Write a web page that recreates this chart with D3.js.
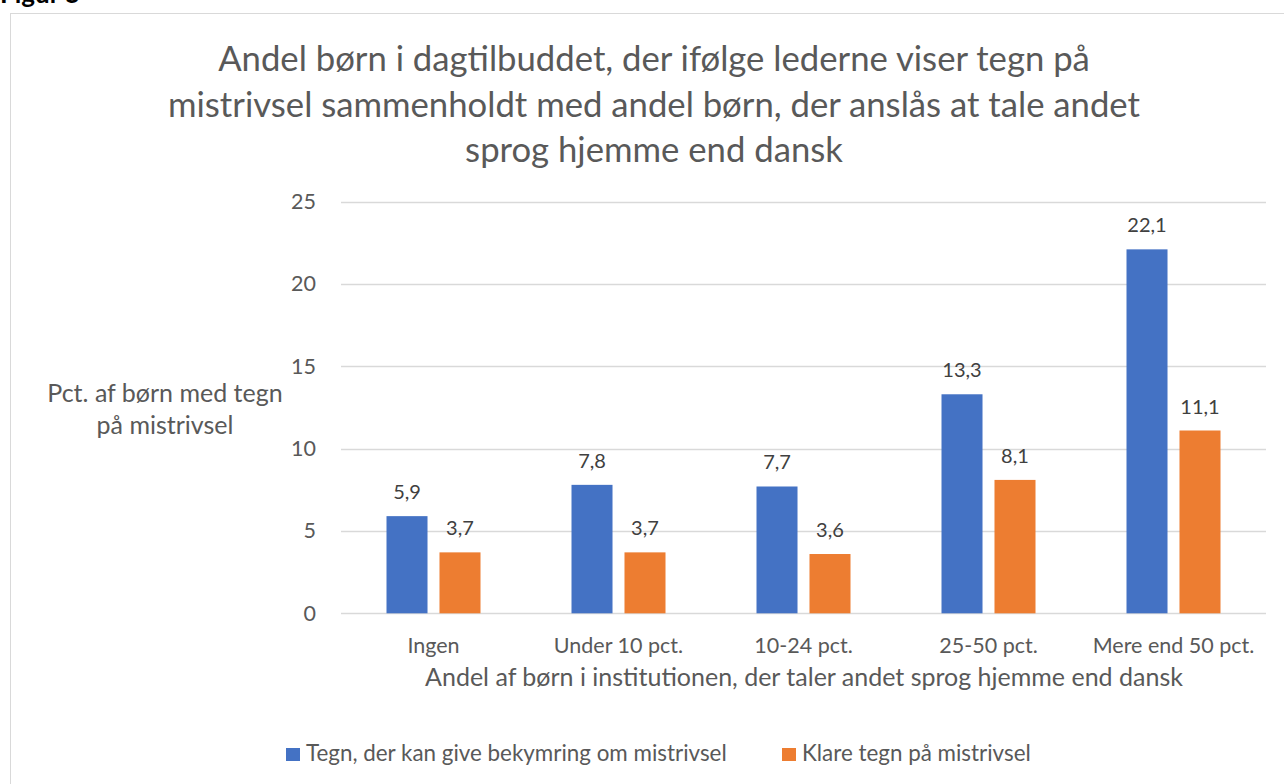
<!DOCTYPE html>
<html lang="da">
  <head>
    <meta charset="UTF-8" />
    <title>Figur 5</title>
    <script src="https://cdn.jsdelivr.net/npm/d3@7"></script>
    <style>
      body { margin: 0; background: #fff; }
      svg { display: block; font-family: Lato, "Open Sans", sans-serif; }
    </style>
  </head>
  <body>
    <div id="main-div"></div>
    <script>
      // data
      let categories = ["Ingen", "Under 10 pct.", "10-24 pct.", "25-50 pct.", "Mere end 50 pct."];
      let seriesNames = ["Tegn, der kan give bekymring om mistrivsel", "Klare tegn på mistrivsel"];
      let bekymring = [5.9, 7.8, 7.7, 13.3, 22.1];
      let klare = [3.7, 3.7, 3.6, 8.1, 11.1];
      let yTicks = [0, 5, 10, 15, 20, 25];
      let colors = ["#4472c4", "#ed7d31"];

      let titleLines = [
        "Andel børn i dagtilbuddet, der ifølge lederne viser tegn på",
        "mistrivsel sammenholdt med andel børn, der anslås at tale andet",
        "sprog hjemme end dansk",
      ];

      let dataset = categories.map((c, i) => ({ cat: c, values: [bekymring[i], klare[i]] }));

      let W = 1284, H = 784;
      let svg = d3.select("#main-div").append("svg").attr("width", W).attr("height", H);

      // "Figur 5" heading, clipped at the top like the page crop
      svg.append("text").attr("x", 0).attr("y", 3)
        .attr("font-weight", "bold").attr("font-size", 26).attr("fill", "#000")
        .text("Figur 5");

      // chart frame
      svg.append("rect").attr("x", 10.5).attr("y", 13.5).attr("width", 1290).attr("height", 800)
        .attr("fill", "#fff").attr("stroke", "#d9d9d9").attr("stroke-width", 1);

      let plotLeft = 341, plotRight = 1266, plotTop = 201.6, plotBottom = 613.3;

      let x0 = d3.scaleBand().domain(categories).range([plotLeft, plotRight]).padding(0);
      let bw = x0.bandwidth();
      let x1 = d3.scaleBand().domain([0, 1]).range([bw / 2 - 47, bw / 2 + 47]).paddingInner(0.226);
      let y = d3.scaleLinear().domain([0, 25]).range([plotBottom, plotTop]);

      // title
      svg.append("g").selectAll("text").data(titleLines).join("text")
        .attr("x", 654).attr("y", (d, i) => 71 + i * 45.5)
        .attr("text-anchor", "middle").attr("font-size", 34.7).attr("fill", "#595959")
        .text((d) => d);

      // gridlines
      svg.append("g").selectAll("line").data(yTicks).join("line")
        .attr("x1", plotLeft).attr("x2", plotRight)
        .attr("y1", (d) => Math.round(y(d)) + 0.5).attr("y2", (d) => Math.round(y(d)) + 0.5)
        .attr("stroke", "#d9d9d9").attr("stroke-width", 1.3);

      // y axis labels
      let yAxis = svg.append("g").attr("transform", "translate(" + plotLeft + ",0)")
        .call(d3.axisLeft(y).tickValues(yTicks).tickSize(0).tickPadding(25));
      yAxis.select(".domain").remove();
      yAxis.selectAll("text").attr("font-size", 21.5).attr("fill", "#595959")
        .attr("font-family", "Lato, sans-serif");

      // x axis labels
      let xAxis = svg.append("g").attr("transform", "translate(0," + plotBottom + ")")
        .call(d3.axisBottom(x0).tickSize(0).tickPadding(24));
      xAxis.select(".domain").remove();
      xAxis.selectAll("text").attr("font-size", 21.5).attr("fill", "#595959")
        .attr("font-family", "Lato, sans-serif");

      // bars
      let groups = svg.append("g").selectAll("g").data(dataset).join("g")
        .attr("transform", (d) => "translate(" + x0(d.cat) + ",0)");
      groups.selectAll("rect").data((d) => d.values.map((v, i) => ({ v, i }))).join("rect")
        .attr("x", (d) => x1(d.i)).attr("width", x1.bandwidth())
        .attr("y", (d) => y(d.v)).attr("height", (d) => y(0) - y(d.v))
        .attr("fill", (d) => colors[d.i]);

      // data labels
      groups.selectAll("text").data((d) => d.values.map((v, i) => ({ v, i }))).join("text")
        .attr("x", (d) => x1(d.i) + x1.bandwidth() / 2)
        .attr("y", (d) => y(d.v) - 17)
        .attr("text-anchor", "middle").attr("font-size", 20).attr("fill", "#404040")
        .text((d) => d3.format(".1f")(d.v).replace(".", ","));

      // axis titles
      svg.append("text").attr("x", 804).attr("y", 686)
        .attr("text-anchor", "middle").attr("font-size", 25).attr("fill", "#595959")
        .text("Andel af børn i institutionen, der taler andet sprog hjemme end dansk");
      svg.append("g").selectAll("text").data(["Pct. af børn med tegn", "på mistrivsel"]).join("text")
        .attr("x", 165).attr("y", (d, i) => 402 + i * 32)
        .attr("text-anchor", "middle").attr("font-size", 25).attr("fill", "#595959")
        .text((d) => d);

      // legend
      let legendX = [286, 782];
      let legend = svg.append("g").selectAll("g").data(seriesNames).join("g")
        .attr("transform", (d, i) => "translate(" + legendX[i] + ",748)");
      legend.append("rect").attr("width", 14).attr("height", 13)
        .attr("fill", (d, i) => colors[i]);
      legend.append("text").attr("x", 20).attr("y", 13)
        .attr("font-size", 22.4).attr("fill", "#595959").text((d) => d);
    </script>
  </body>
</html>
